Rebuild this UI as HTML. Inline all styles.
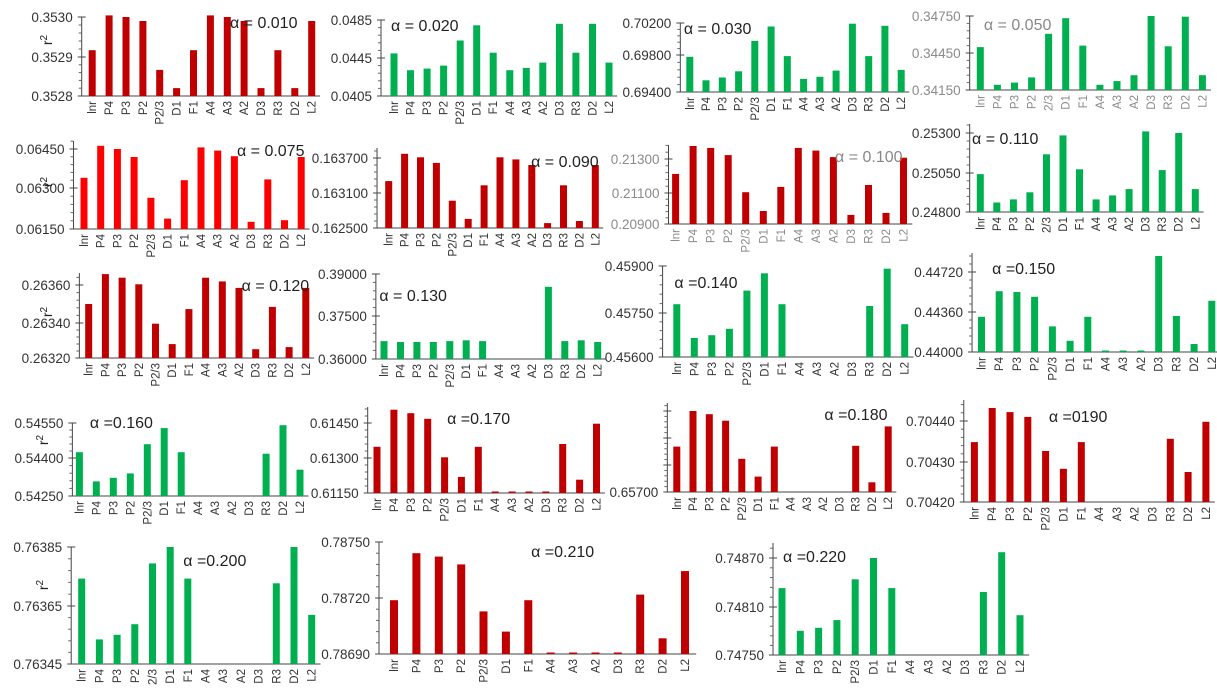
<!DOCTYPE html>
<html><head><meta charset="utf-8">
<style>
html,body{margin:0;padding:0;background:#fff;}
svg{display:block;font-family:"Liberation Sans",sans-serif;}
</style></head>
<body>
<svg id="s" width="1217" height="692" xmlns="http://www.w3.org/2000/svg"></svg>
<script>
var DR="#C00000",BR="#FF0000",GR="#00B050";
var C=["lnr","P4","P3","P2","P2/3","D1","F1","A4","A3","A2","D3","R3","D2","L2"];
function L(x){return x*1.1673;}
function R(x){return 600+(x-600)*1.1811;}
var P=[
[L(70),L(79),L(267),96,[[17,"0.3530"],[57,"0.3529"],[96,"0.3528"]],DR,[.58,1.02,1,.95,.33,.1,.58,1.02,1,.95,.1,.58,.1,.95],[L(197),23,"α = 0.010"]],
[381,394,609,96,[[20,"0.0485"],[58,"0.0445"],[96,"0.0405"]],GR,[.56,.34,.36,.4,.73,.93,.57,.34,.37,.44,.95,.57,.95,.44],[391,26,"α = 0.020"]],
[R(668),R(676),R(855),92,[[23,"0.70200"],[55,"0.69800"],[92,"0.69400"]],GR,[.51,.17,.21,.3,.74,.95,.52,.19,.22,.31,.99,.52,.96,.32],[R(671),29,"α = 0.030"]],
[R(913),R(922),R(1110),90,[[16,"0.34750"],[53,"0.34450"],[90,"0.34150"]],GR,[.58,.07,.1,.17,.76,.97,.6,.07,.12,.2,1,.59,.99,.2],[R(925),25,"α = 0.050"],1,0,0,1],
[L(63),L(72),L(258),229,[[149,"0.06450"],[188,"0.06300"],[229,"0.06150"]],BR,[.64,1.04,1,.9,.39,.13,.61,1.02,.98,.91,.09,.62,.11,.9],[L(203),151,"α = 0.075"],0,0,141],
[L(323),L(333),L(510),228,[[158,"0.163700"],[193,"0.163100"],[228,"0.162500"]],DR,[.67,1.06,1.01,.93,.39,.13,.61,1.01,.98,.9,.07,.61,.1,.9],[L(455),162,"α = 0.090"],0,0,148],
[R(658),R(664),R(857),224,[[159,"0.21300"],[193,"0.21100"],[224,"0.20900"]],DR,[.77,1.2,1.17,1.06,.49,.2,.57,1.17,1.13,1.03,.14,.6,.17,1.02],[R(799),157,"α = 0.100"],1,0,145],
[R(913),R(922),R(1104),212,[[133,"0.25300"],[173,"0.25050"],[212,"0.24800"]],GR,[.48,.12,.16,.25,.73,.97,.54,.16,.21,.29,1.02,.53,1,.29],[R(915),139,"α = 0.110"],0,0,124,1],
[L(68),L(76),L(262),358,[[285,"0.26360"],[323,"0.26340"],[358,"0.26320"]],DR,[.74,1.15,1.1,1.01,.47,.19,.67,1.1,1.05,.96,.12,.7,.15,.96],[L(207),286,"α = 0.120"],0,0,273],
[L(322),L(329),L(512),359,[[274,"0.39000"],[316,"0.37500"],[359,"0.36000"]],GR,[.21,.2,.2,.2,.21,.22,.21,0,0,0,.85,.21,.22,.2],[L(325),296,"α = 0.130"]],
[R(653),R(665),R(858),357,[[266,"0.45900"],[313,"0.45750"],[357,"0.45600"]],GR,[.58,.21,.24,.31,.73,.92,.58,0,0,0,0,.56,.97,.36],[R(663),283,"α =0.140"]],
[R(915),R(923),R(1118),352,[[272,"0.44720"],[312,"0.44360"],[352,"0.44000"]],GR,[.44,.76,.75,.69,.32,.14,.44,.012,.012,.012,1.2,.45,.1,.64],[R(932),269,"α =0.150"],0,0,253],
[L(62),L(68),L(257),496,[[423,"0.54550"],[458,"0.54400"],[496,"0.54250"]],GR,[.6,.2,.25,.31,.71,.93,.6,0,0,0,0,.58,.97,.36],[L(77),423,"α =0.160"]],
[L(315),L(323),L(511),493,[[423,"0.61450"],[458,"0.61300"],[493,"0.61150"]],DR,[.66,1.19,1.14,1.06,.51,.23,.66,.015,.015,.015,.015,.7,.19,.99],[L(383),419,"α =0.170"],0,0,407],
[R(657),R(665),R(844),492,[[411,""],[438,""],[465,""],[492,"0.65700"]],DR,[.56,1,.96,.88,.41,.19,.56,0,0,0,0,.57,.12,.81],[R(790),415,"α =0.180"],0,0,403],
[R(908),R(917),R(1113),502,[[421,"0.70440"],[462,"0.70430"],[502,"0.70420"]],DR,[.74,1.16,1.11,1.05,.63,.41,.74,0,0,0,0,.78,.37,.99],[R(980),417,"α =0190"],0,0,400],
[L(61),L(70),L(267),664,[[547,"0.76385"],[606,"0.76365"],[664,"0.76345"]],GR,[.73,.21,.25,.34,.86,1,.73,0,0,0,0,.69,1,.42],[L(157),561,"α =0.200"],0,0,0,1],
[379,394,685,654,[[542,"0.78750"],[598,"0.78720"],[654,"0.78690"]],DR,[.48,.9,.87,.8,.38,.2,.48,.01,.01,.01,.01,.53,.14,.74],[L(455),552,"α =0.210"],0,8],
[773,782,1020,655,[[558,"0.74870"],[607,"0.74810"],[655,"0.74750"]],GR,[.69,.25,.28,.36,.78,1,.69,0,0,0,0,.65,1.06,.41],[783,557,"α =0.220"],0,0,543]
];
var h="";
P.forEach(function(p){
 var ax=p[0],x0=p[1],x1=p[2],yb=p[3],T=p[4],col=p[5],V=p[6],A=p[7],gray=p[8],bw=p[9]||7,atop=p[10]||T[0][0],c23=p[11];
 var tc=gray?"#8a8a8a":"#333";
 var yt=T[0][0],span=yb-yt;
 var n=V.length,sp=(x1-x0)/(n-1);
 h+='<line x1="'+ax+'" y1="'+atop+'" x2="'+ax+'" y2="'+yb+'" stroke="#444" stroke-width="1"/>';
 h+='<line x1="'+ax+'" y1="'+yb+'" x2="'+(x1+sp/2)+'" y2="'+yb+'" stroke="#444" stroke-width="1"/>';
 for(var i=0;i<T.length;i++){
  h+='<line x1="'+(ax-4)+'" y1="'+T[i][0]+'" x2="'+(ax+4)+'" y2="'+T[i][0]+'" stroke="#444"/>';
  if(T[i][1])h+='<text x="'+(ax-9)+'" y="'+(T[i][0]+5)+'" font-size="13.5" text-anchor="end" fill="'+tc+'">'+T[i][1]+'</text>';
  if(i<T.length-1){var d=(T[i+1][0]-T[i][0])/5;for(var k=1;k<5;k++){var yy=T[i][0]+d*k;h+='<line x1="'+(ax-3)+'" y1="'+yy.toFixed(1)+'" x2="'+ax+'" y2="'+yy.toFixed(1)+'" stroke="#666"/>';}}
 }
 if(atop<yt-4){var d=(T[1][0]-T[0][0])/5;for(var yy=yt-d;yy>atop;yy-=d)h+='<line x1="'+(ax-3)+'" y1="'+yy.toFixed(1)+'" x2="'+ax+'" y2="'+yy.toFixed(1)+'" stroke="#666"/>';}
 for(var j=0;j<n;j++){
  var cx=x0+sp*j,v=V[j];
  if(v>0){var hh=Math.max(1.5,v*span);h+='<rect x="'+(cx-bw/2).toFixed(1)+'" y="'+(yb-hh).toFixed(1)+'" width="'+bw+'" height="'+hh.toFixed(1)+'" fill="'+col+'"/>';}
  var lab=C[j];if(c23&&j==4)lab="2/3";
  h+='<text transform="translate('+(cx+4).toFixed(1)+','+(yb+5)+') rotate(-90)" font-size="11.5" text-anchor="end" fill="'+tc+'">'+lab+'</text>';
 }
 h+='<text x="'+A[0]+'" y="'+(A[1]+5)+'" font-size="16" fill="'+(gray||A[2]=="α = 0.100"?"#888":"#222")+'">'+A[2]+'</text>';
});
[[52,40],[52,182],[52,312],[48,440],[48,585]].forEach(function(r){
 h+='<text transform="translate('+r[0]+','+r[1]+') rotate(-90)" font-size="14" text-anchor="middle" fill="#222">r<tspan dy="-5" font-size="10">2</tspan></text>';
});
document.getElementById("s").innerHTML=h;
</script>
</body></html>
